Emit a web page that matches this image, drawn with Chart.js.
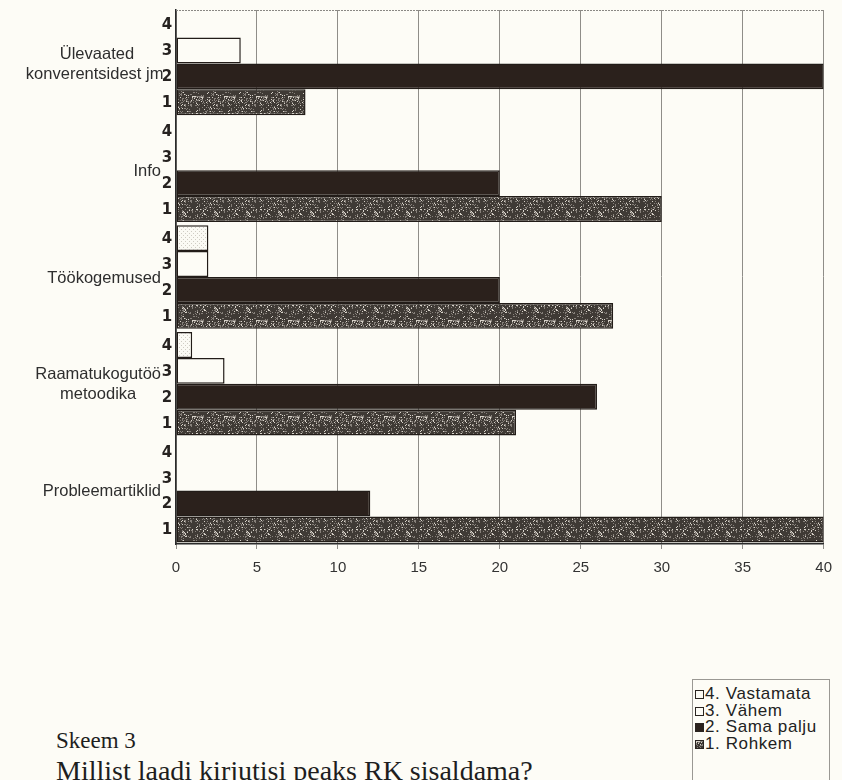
<!DOCTYPE html>
<html>
<head>
<meta charset="utf-8">
<script src="https://cdn.jsdelivr.net/npm/chart.js@4"></script>
<style>
  html, body { margin: 0; padding: 0; background: #fdfcf6; }
  body { width: 842px; height: 780px; position: relative; overflow: hidden; }
  #wrap { position: absolute; left: 0; top: 0; width: 842px; height: 600px; }
  .legend {
    position: absolute; left: 692px; top: 679px; width: 138px; height: 120px;
    border: 1px solid #9a9893; box-sizing: border-box; padding: 6px 0 0 2px;
    font: 17px "Liberation Sans", Arial, sans-serif; color: #222; letter-spacing: 0.6px;
  }
  .legend .row { height: 16.5px; line-height: 16.5px; white-space: nowrap; }
  .legend .sw {
    display: inline-block; width: 9px; height: 9px; margin-right: 1px;
    border: 1px solid #2a2420; vertical-align: 0px; box-sizing: border-box;
  }
  .caption {
    position: absolute; left: 56px; font-family: "Liberation Serif", "Times New Roman", serif;
    color: #1e1e1e; white-space: nowrap;
  }
</style>
</head>
<body>
<div id="wrap"><canvas id="c" width="842" height="600"></canvas></div>

<div class="legend" id="legend"></div>
<div class="caption" style="top:728px; font-size:23px">Skeem 3</div>
<div class="caption" style="top:755px; font-size:28px">Millist laadi kirjutisi peaks RK sisaldama?</div>

<script>
// Categories, top to bottom (multi-line names as arrays)
const categories = [
  ['Ülevaated', 'konverentsidest jm.'],
  'Info',
  'Töökogemused',
  ['Raamatukogutöö', 'metoodika'],
  'Probleemartiklid'
];

// Series values, one entry per category
const vastamata = [0, 0, 2, 1, 0];     // 4. Vastamata
const vahem     = [4, 0, 2, 3, 0];     // 3. Vähem
const samaPalju = [40, 20, 20, 26, 12]; // 2. Sama palju
const rohkem    = [8, 30, 27, 21, 40];  // 1. Rohkem

const seriesNames = ['4. Vastamata', '3. Vähem', '2. Sama palju', '1. Rohkem'];
const seriesMarks = ['4', '3', '2', '1'];
const xTicks = [0, 5, 10, 15, 20, 25, 30, 35, 40];

// Speckled dark fill for "Rohkem" (deterministic hash, no randomness)
function speckle(base, light, mid, size) {
  const c = document.createElement('canvas');
  c.width = size; c.height = size;
  const g = c.getContext('2d');
  g.fillStyle = base; g.fillRect(0, 0, size, size);
  for (let y = 0; y < size; y++) {
    for (let x = 0; x < size; x++) {
      const h = ((x * 73856093) ^ (y * 19349663) ^ (x * y * 83492791)) >>> 0;
      const v = h % 97;
      if (v < 8) { g.fillStyle = light; g.fillRect(x, y, 1, 1); }
      else if (v < 24) { g.fillStyle = mid; g.fillRect(x, y, 1, 1); }
    }
  }
  return c;
}
// Faint dotted fill for "Vastamata"
function dotted() {
  const c = document.createElement('canvas');
  c.width = 4; c.height = 4;
  const g = c.getContext('2d');
  g.fillStyle = '#fbfaf4'; g.fillRect(0, 0, 4, 4);
  g.fillStyle = '#cfccc3'; g.fillRect(1, 1, 1, 1); g.fillRect(3, 3, 1, 1);
  return c;
}

const ctx0 = document.getElementById('c').getContext('2d');
const rohkemTile = speckle('#3f3a35', '#d8d3ca', '#86807a', 32);
const rohkemFill = ctx0.createPattern(rohkemTile, 'repeat');
const vastamataFill = ctx0.createPattern(dotted(), 'repeat');

const fills = [vastamataFill, '#fdfcf6', '#2b211c', rohkemFill];
const swatchCss = [
  'background:#fbfaf4',
  'background:#fdfcf6',
  'background:#2b211c',
  'background:url(' + rohkemTile.toDataURL() + ')'
];

const seriesData = [vastamata, vahem, samaPalju, rohkem];

// Legend
const legendEl = document.getElementById('legend');
seriesNames.forEach((n, i) => {
  const r = document.createElement('div');
  r.className = 'row';
  r.innerHTML = '<span class="sw" style="' + swatchCss[i] + '"></span>' + n;
  legendEl.appendChild(r);
});

const FONT = '"Liberation Sans", Arial, sans-serif';

// Category names, hand-written series marks and top frame line
const annotate = {
  id: 'annotate',
  afterDraw(chart) {
    const { ctx, chartArea, scales } = chart;
    ctx.save();
    // top frame (dotted)
    ctx.strokeStyle = '#8a8884';
    ctx.lineWidth = 1;
    ctx.setLineDash([2, 1]);
    ctx.beginPath();
    ctx.moveTo(chartArea.left, chartArea.top + 0.5);
    ctx.lineTo(chartArea.right, chartArea.top + 0.5);
    ctx.stroke();
    ctx.setLineDash([]);

    // category names
    ctx.fillStyle = '#2e2e2e';
    ctx.font = '16.5px ' + FONT;
    ctx.textBaseline = 'middle';
    ctx.textAlign = 'center';
    categories.forEach((lab, i) => {
      const lines = Array.isArray(lab) ? lab : [lab];
      const w = Math.max(...lines.map(l => ctx.measureText(l).width));
      const right = lines.length > 1 && i === 0 ? 168 : 161;
      const cx = right - w / 2;
      const cy = scales.y.getPixelForValue(i) + 1;
      const lh = 20;
      lines.forEach((l, k) => {
        ctx.fillText(l, cx, cy + (k - (lines.length - 1) / 2) * lh);
      });
    });

    // hand-written series marks next to each bar
    ctx.font = 'bold 15px "DejaVu Sans", sans-serif';
    ctx.fillStyle = '#262220';
    chart.data.datasets.forEach((ds, di) => {
      const meta = chart.getDatasetMeta(di);
      meta.data.forEach(bar => {
        ctx.fillText(seriesMarks[di], chartArea.left - 9, bar.y + 1);
      });
    });
    ctx.restore();
  }
};

new Chart(document.getElementById('c'), {
  type: 'bar',
  data: {
    labels: categories,
    datasets: seriesNames.map((n, i) => ({
      label: n,
      data: seriesData[i],
      backgroundColor: fills[i],
      borderColor: '#221c18',
      borderWidth: 1.5,
      borderSkipped: false,
      categoryPercentage: 0.97,
      barPercentage: 1.0
    }))
  },
  options: {
    indexAxis: 'y',
    responsive: false,
    animation: false,
    events: [],
    layout: { padding: { left: 176, right: 16, top: 10, bottom: 13 } },
    plugins: { legend: { display: false }, tooltip: { enabled: false } },
    scales: {
      x: {
        min: 0, max: 40,
        afterBuildTicks: (s) => { s.ticks = xTicks.map(v => ({ value: v })); },
        grid: { color: '#8f8d88', lineWidth: 1, tickLength: 5, tickColor: '#8f8d88', drawOnChartArea: true },
        border: { color: '#2a2a2a', width: 1.5 },
        ticks: { color: '#333', font: { family: FONT, size: 15 }, padding: 10 }
      },
      y: {
        afterFit: (s) => { s.width = 0; },
        ticks: { display: false },
        grid: { display: false },
        border: { color: '#2a2a2a', width: 1.5 }
      }
    }
  },
  plugins: [annotate]
});
</script>
</body>
</html>
